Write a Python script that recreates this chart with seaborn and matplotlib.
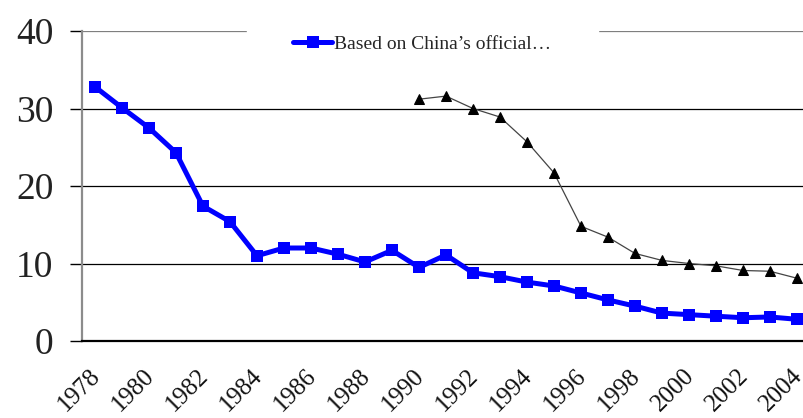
import matplotlib
matplotlib.use("Agg")
import matplotlib.pyplot as plt
import matplotlib.transforms as mtransforms
from matplotlib.ticker import FixedLocator
from matplotlib.lines import Line2D
import seaborn as sns
import pandas as pd

# Poverty incidence (%) by year
years = list(range(1978, 2005))
official = [32.8, 30.1, 27.5, 24.3, 17.4, 15.4, 11.0, 12.0, 12.0, 11.2,
            10.2, 11.7, 9.5, 11.1, 8.8, 8.3, 7.6, 7.1, 6.2, 5.3,
            4.5, 3.6, 3.4, 3.2, 3.0, 3.1, 2.8]
alt_years = list(range(1990, 2005))
alternative = [31.2, 31.6, 30.0, 28.9, 25.7, 21.7, 14.8, 13.4, 11.3, 10.4,
               10.0, 9.7, 9.1, 9.0, 8.1]
y_ticks = [0, 10, 20, 30, 40]
x_ticks = list(range(1978, 2005, 2))
legend_label = "Based on China\u2019s official\u2026"

df_off = pd.DataFrame({"year": years, "rate": official})
df_alt = pd.DataFrame({"year": alt_years, "rate": alternative})

sns.set_style("white")
plt.rcParams["font.family"] = ["Liberation Serif", "DejaVu Serif"]

fig = plt.figure(figsize=(8.04, 4.18), dpi=100)
ax = fig.add_axes([82 / 804, 1 - 341 / 418, 1 - 82 / 804, 310 / 418])

for v in y_ticks[1:]:
    ax.axhline(v, color="black" if v < 40 else "#7f7f7f", lw=0.9, zorder=0)

sns.lineplot(data=df_alt, x="year", y="rate", ax=ax, color="#444444",
             lw=0.9, marker="^", markersize=7, markerfacecolor="black",
             markeredgecolor="black", legend=False, zorder=3)
sns.lineplot(data=df_off, x="year", y="rate", ax=ax, color="#0000FF",
             lw=3.6, marker="s", markersize=8, markeredgewidth=0,
             legend=False, zorder=4)

ax.set_xlim(1977.52, 2004.26)
ax.set_ylim(0, 40)
ax.set_xlabel("")
ax.set_ylabel("")

ax.yaxis.set_major_locator(FixedLocator(y_ticks))
ax.xaxis.set_major_locator(FixedLocator(x_ticks))
ax.xaxis.set_minor_locator(FixedLocator([y - 0.5 for y in range(1978, 2006)]))
ax.set_xticklabels([str(y) for y in x_ticks], rotation=45, ha="right",
                   rotation_mode="anchor", fontsize=18, color="#111111")
ax.tick_params(axis="x", which="major", length=0, pad=17)
ax.tick_params(axis="x", which="minor", direction="inout", length=12,
               width=1.5, color="#808080")
ax.tick_params(axis="y", which="major", direction="out", length=8.6,
               width=1, color="black", labelsize=27, labelcolor="#222222",
               pad=12, left=True)

# pull the slanted year labels a little to the left so the last one fits
shift = mtransforms.ScaledTranslation(-4 / 72, 0, fig.dpi_scale_trans)
for lbl in ax.get_xticklabels():
    lbl.set_transform(lbl.get_transform() + shift)

for side in ("top", "right"):
    ax.spines[side].set_visible(False)
ax.spines["left"].set_color("#8c8c8c")
ax.spines["left"].set_linewidth(1.6)
ax.spines["bottom"].set_color("black")
ax.spines["bottom"].set_linewidth(1.6)
ax.spines["bottom"].set_zorder(5)

handle = Line2D([], [], color="#0000FF", lw=3.6, marker="s", markersize=8,
                markeredgewidth=0)
leg = ax.legend(handles=[handle], labels=[legend_label], loc="center left",
                bbox_to_anchor=(237 / 804, 1 - 44 / 418),
                bbox_transform=fig.transFigure, frameon=True, fontsize=14,
                handlelength=2.0, handletextpad=0.1, borderpad=2.4,
                fancybox=False)
leg.get_frame().set_facecolor("white")
leg.get_frame().set_edgecolor("white")
leg.get_frame().set_alpha(1)
leg.set_zorder(2)

fig.savefig("out.png", dpi=100)
